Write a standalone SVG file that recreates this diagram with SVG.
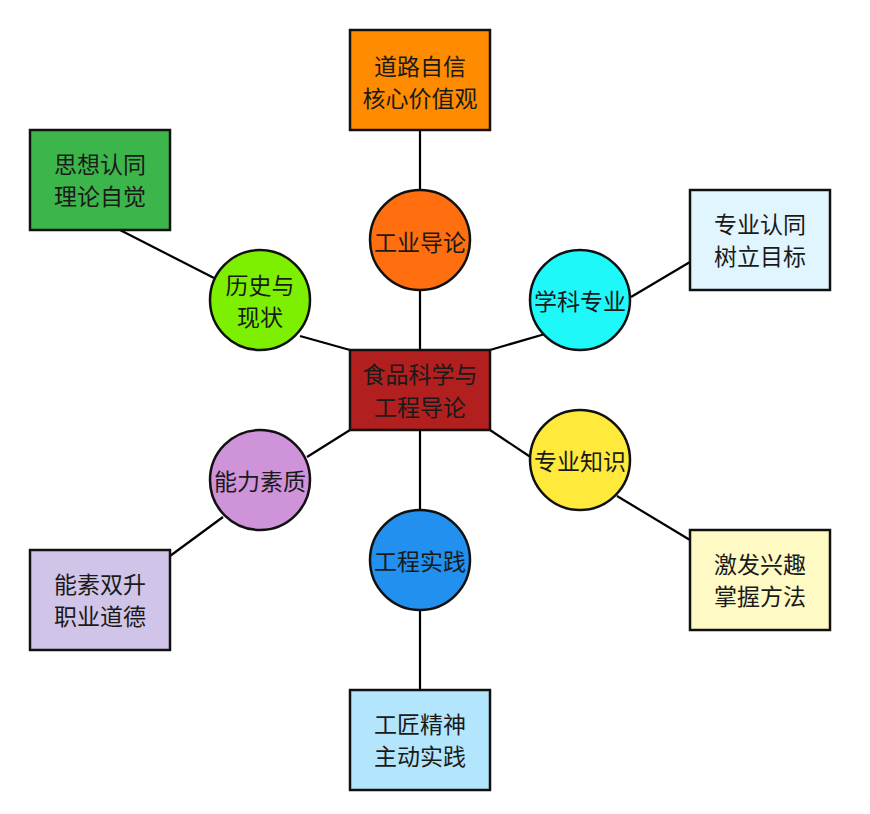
<svg xmlns="http://www.w3.org/2000/svg" width="870" height="814" viewBox="0 0 870 814">
<style>
.c{stroke:#000;stroke-width:2.2;fill:none}
.b{stroke:#111;stroke-width:2.5}
.t{font-family:"Noto Sans CJK SC","Noto Sans",sans-serif;font-size:23px;fill:#1a1a1a;text-anchor:middle;dominant-baseline:central}
</style>
<rect width="870" height="814" fill="#fff"/>
<g id="connectors">
<line class="c" x1="420" y1="130" x2="420" y2="190"/>
<line class="c" x1="420" y1="290" x2="420" y2="350"/>
<line class="c" x1="120" y1="230" x2="214" y2="278"/>
<line class="c" x1="300" y1="336" x2="350" y2="350"/>
<line class="c" x1="490" y1="350" x2="545" y2="334"/>
<line class="c" x1="631" y1="297" x2="690" y2="262"/>
<line class="c" x1="490" y1="430" x2="532" y2="458"/>
<line class="c" x1="617" y1="496" x2="690" y2="540"/>
<line class="c" x1="350" y1="430" x2="307" y2="457"/>
<line class="c" x1="223" y1="517" x2="170" y2="556"/>
<line class="c" x1="420" y1="430" x2="420" y2="510"/>
<line class="c" x1="420" y1="610" x2="420" y2="690"/>
</g>
<g id="center">
<rect class="b" x="350" y="350" width="140" height="80" fill="#B21F1F"/>
<text class="t" x="420" y="373">食品科学与</text>
<text class="t" x="420" y="406">工程导论</text>
</g>
<g id="box-top">
<rect class="b" x="350" y="30" width="140" height="100" fill="#FF8C00"/>
<text class="t" x="420" y="65">道路自信</text>
<text class="t" x="420" y="97">核心价值观</text>
</g>
<g id="box-green">
<rect class="b" x="30" y="130" width="140" height="100" fill="#3CB64A"/>
<text class="t" x="100" y="163">思想认同</text>
<text class="t" x="100" y="195">理论自觉</text>
</g>
<g id="box-lightblue">
<rect class="b" x="690" y="190" width="140" height="100" fill="#E1F5FE"/>
<text class="t" x="760" y="223">专业认同</text>
<text class="t" x="760" y="255">树立目标</text>
</g>
<g id="box-yellow">
<rect class="b" x="690" y="530" width="140" height="100" fill="#FFF9C4"/>
<text class="t" x="760" y="563">激发兴趣</text>
<text class="t" x="760" y="595">掌握方法</text>
</g>
<g id="box-purple">
<rect class="b" x="30" y="550" width="140" height="100" fill="#D1C4E9"/>
<text class="t" x="100" y="583">能素双升</text>
<text class="t" x="100" y="615">职业道德</text>
</g>
<g id="box-bottom">
<rect class="b" x="350" y="690" width="140" height="100" fill="#B3E5FC"/>
<text class="t" x="420" y="723">工匠精神</text>
<text class="t" x="420" y="755">主动实践</text>
</g>
<g id="c-gongye">
<circle class="b" cx="420" cy="240" r="50" fill="#FF6F0F"/>
<text class="t" x="420" y="241">工业导论</text>
</g>
<g id="c-lishi">
<circle class="b" cx="260" cy="300" r="50" fill="#7CF000"/>
<text class="t" x="260" y="284">历史与</text>
<text class="t" x="260" y="316">现状</text>
</g>
<g id="c-xueke">
<circle class="b" cx="580" cy="300" r="50" fill="#1EF8F8"/>
<text class="t" x="580" y="300">学科专业</text>
</g>
<g id="c-zhishi">
<circle class="b" cx="580" cy="460" r="50" fill="#FFE93B"/>
<text class="t" x="580" y="460">专业知识</text>
</g>
<g id="c-nengli">
<circle class="b" cx="260" cy="480" r="50" fill="#CE93D8"/>
<text class="t" x="260" y="480">能力素质</text>
</g>
<g id="c-gongcheng">
<circle class="b" cx="420" cy="560" r="50" fill="#2190EE"/>
<text class="t" x="420" y="560">工程实践</text>
</g>
</svg>
